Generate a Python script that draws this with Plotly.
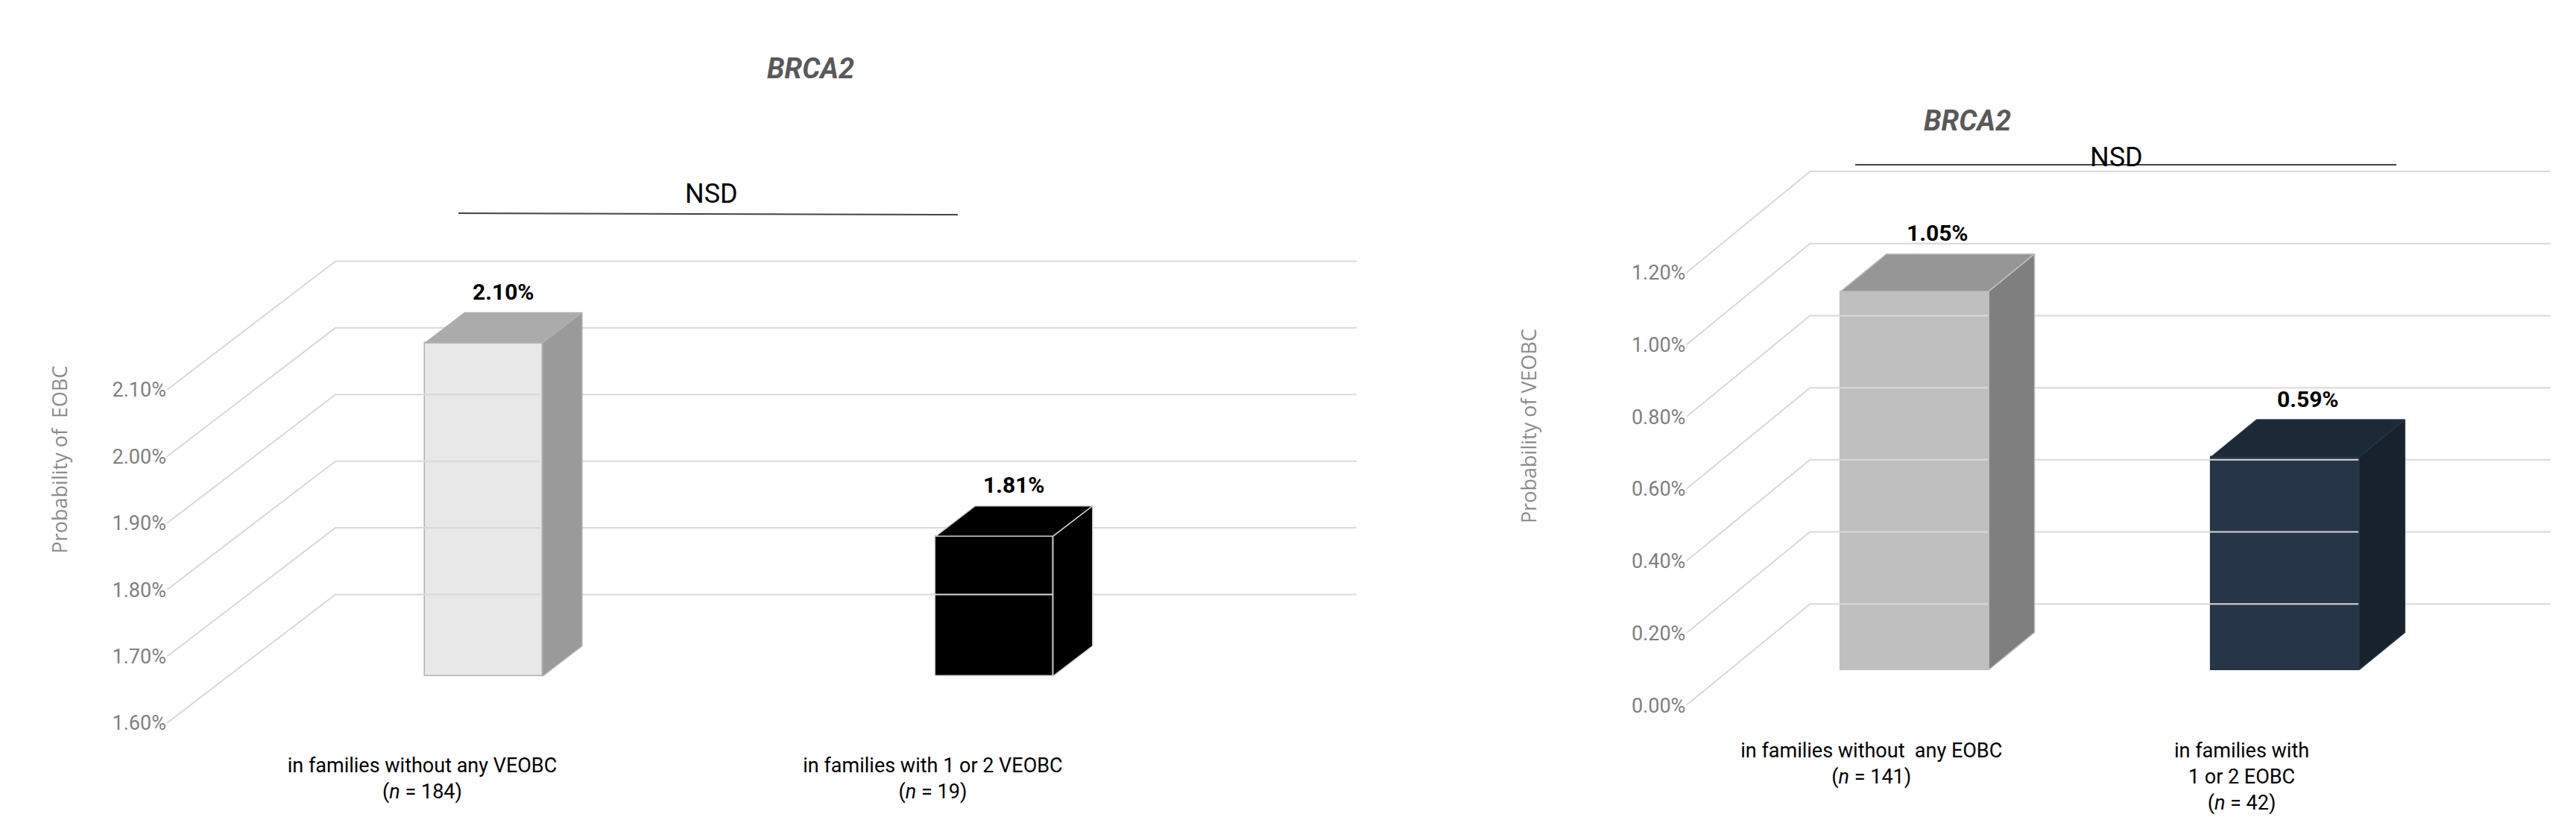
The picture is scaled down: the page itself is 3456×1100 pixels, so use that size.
import plotly.graph_objects as go

# ---- data ----
left_cats = ["in families without any VEOBC<br>(<i>n</i> = 184)", "in families with 1 or 2 VEOBC<br>(<i>n</i> = 19)"]
left_vals = [2.10, 1.81]
left_labels = ["2.10%", "1.81%"]
left_ticks = [1.60, 1.70, 1.80, 1.90, 2.00, 2.10]
left_ticktext = ["1.60%", "1.70%", "1.80%", "1.90%", "2.00%", "2.10%"]

right_cats = ["in families without  any EOBC<br>(<i>n</i> = 141)", "in families with<br>1 or 2 EOBC<br>(<i>n</i> = 42)"]
right_vals = [1.05, 0.59]
right_labels = ["1.05%", "0.59%"]
right_ticks = [0.0, 0.2, 0.4, 0.6, 0.8, 1.0, 1.2]
right_ticktext = ["0.00%", "0.20%", "0.40%", "0.60%", "0.80%", "1.00%", "1.20%"]

FONT = "Liberation Sans Narrow, Arial Narrow, Roboto, sans-serif"
fig = go.Figure()

def panel(xa, ya, cats, vals, labels, ticks, DX, DY, w, z0, z1, colors):
    xr = "x" if xa == 1 else "x%d" % xa
    yr = "y" if ya == 1 else "y%d" % ya
    base = ticks[0]
    grid = "#d9d9d9"
    for t in ticks:
        fig.add_trace(go.Scatter(x=[-0.5, -0.5 + DX, 1.5 + DX], y=[t, t + DY, t + DY],
                                 mode="lines", line=dict(color=grid, width=2),
                                 xaxis=xr, yaxis=yr, hoverinfo="skip", showlegend=False))
    for i, v in enumerate(vals):
        front, side, top, edge = colors[i]
        xf = i + z0 * DX
        fig.add_trace(go.Bar(x=[xf], y=[v - base], base=[base + z0 * DY], width=[w],
                             marker=dict(color=front, line=dict(color=edge, width=1.5)),
                             xaxis=xr, yaxis=yr, showlegend=False, hoverinfo="skip"))
        l, r = xf - w / 2, xf + w / 2
        d = (z1 - z0)
        yt = v + z0 * DY
        yb = base + z0 * DY
        fig.add_trace(go.Scatter(x=[l, r, r + d * DX, l + d * DX, l], y=[yt, yt, yt + d * DY, yt + d * DY, yt],
                                 fill="toself", fillcolor=top, mode="lines", line=dict(color=edge, width=1.5),
                                 xaxis=xr, yaxis=yr, hoverinfo="skip", showlegend=False))
        fig.add_trace(go.Scatter(x=[r, r + d * DX, r + d * DX, r, r], y=[yb, yb + d * DY, yt + d * DY, yt, yb],
                                 fill="toself", fillcolor=side, mode="lines", line=dict(color=edge, width=1.5),
                                 xaxis=xr, yaxis=yr, hoverinfo="skip", showlegend=False))
        fig.add_annotation(x=i + (z0 + z1) / 2 * DX, y=v + z1 * DY, xref=xr, yref=yr, text="<b>%s</b>" % labels[i],
                           showarrow=False, yshift=28, font=dict(family=FONT, size=30, color="#000"))

# left panel
panel(1, 1, left_cats, left_vals, left_labels, left_ticks, DX=0.33, DY=0.193, w=0.23, z0=0.365, z1=0.6,
      colors=[("#e8e8e8", "#9a9a9a", "#ababab", "#b0b0b0"), ("#000000", "#000000", "#000000", "#d0d0d0")])
# right panel
panel(2, 2, right_cats, right_vals, right_labels, right_ticks, DX=0.334, DY=0.281, w=0.4, z0=0.35, z1=0.72,
      colors=[("#bfbfbf", "#7f7f7f", "#969696", "#bfbfbf"), ("#263547", "#18222d", "#1c2a38", "#263547")])

ax = dict(showgrid=False, zeroline=False, showline=False)
tickfont = dict(family=FONT, size=27, color="#7f7f7f")
fig.update_layout(
    width=3456, height=1100, margin=dict(l=0, r=0, t=0, b=0),
    plot_bgcolor="white", paper_bgcolor="white", showlegend=False, bargap=0,
    xaxis=dict(domain=[0.0625, 0.5243], range=[-0.5, 1.83], tickvals=[0, 1], ticktext=left_cats,
               tickfont=dict(family=FONT, size=27, color="#000"), ticks="", **ax),
    yaxis=dict(domain=[0.0909, 0.7273], range=[1.5575, 2.3405], tickvals=left_ticks, ticktext=left_ticktext,
               tickfont=tickfont, ticks="", **ax),
    xaxis2=dict(domain=[0.6523, 0.9878], range=[-0.5, 1.834], tickvals=[0, 1], ticktext=right_cats,
                tickfont=dict(family=FONT, size=27, color="#000"), ticks="", anchor="y2", **ax),
    yaxis2=dict(domain=[0.109, 0.8636], range=[-0.0869, 1.63], tickvals=right_ticks, ticktext=right_ticktext,
                tickfont=tickfont, ticks="", anchor="x2", **ax),
)

def pa(x, y, text, size, color="#000", angle=0, fam=FONT):
    fig.add_annotation(x=x / 3456, y=1 - y / 1100, xref="paper", yref="paper", text=text, showarrow=False,
                       textangle=angle, font=dict(family=fam, size=size, color=color))

pa(1019, 60, "<b><i>BRCA2</i></b>", 38, "#595959")
pa(909, 229, "NSD", 36)
pa(2692, 130, "<b><i>BRCA2</i></b>", 38, "#595959")
pa(2869, 180, "NSD", 36)
pa(50, 737, "Probability of  EOBC", 27, "#8c8c8c", -90, "Open Sans, sans-serif")
pa(2042, 564, "Probability of VEOBC", 27, "#8c8c8c", -90, "Open Sans, sans-serif")
fig.add_shape(type="line", xref="paper", yref="paper", x0=607 / 3456, x1=1277 / 3456, y0=1 - 278 / 1100,
              y1=1 - 280 / 1100, line=dict(color="#444", width=2))
fig.add_shape(type="line", xref="paper", yref="paper", x0=2481 / 3456, x1=3207 / 3456, y0=1 - 213 / 1100,
              y1=1 - 213 / 1100, line=dict(color="#444", width=2))

fig.write_html("out.html")
